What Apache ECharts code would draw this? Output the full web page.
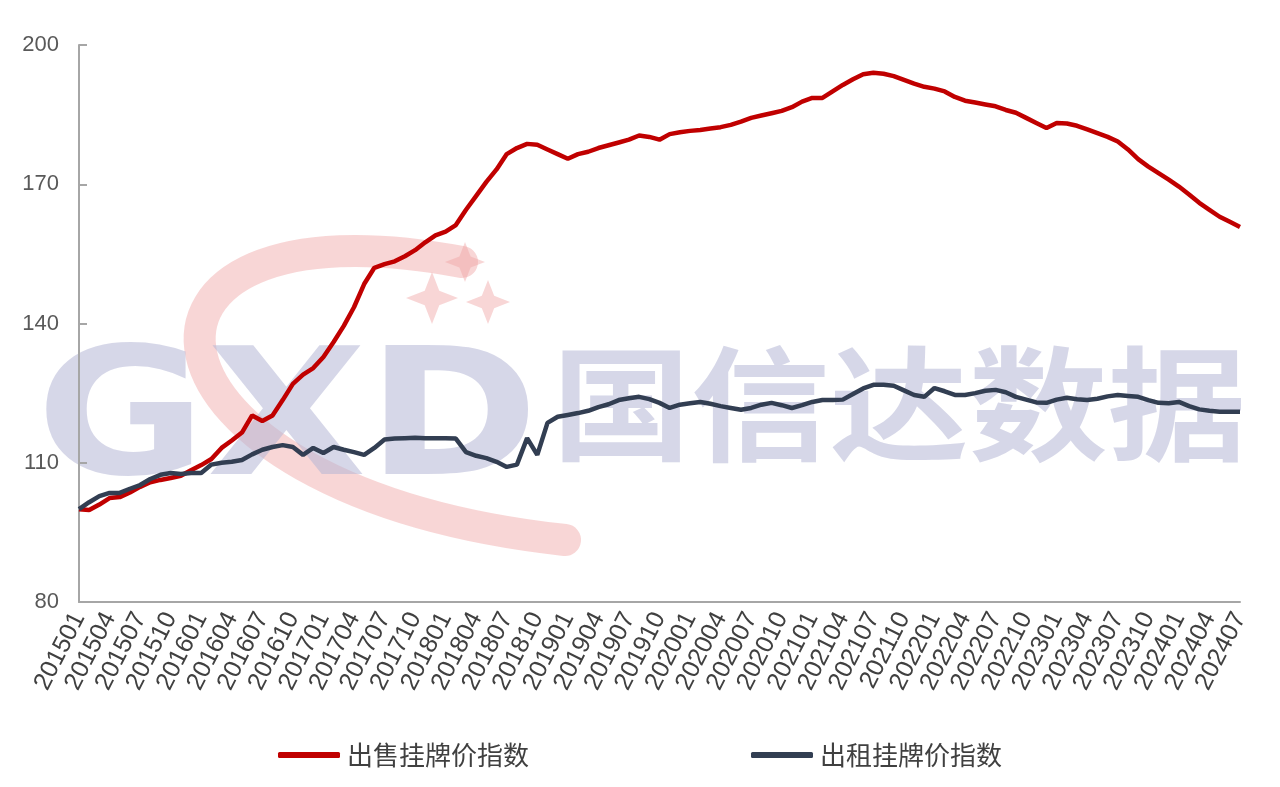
<!DOCTYPE html>
<html>
<head>
<meta charset="utf-8">
<script src="https://cdn.jsdelivr.net/npm/echarts@6/dist/echarts.min.js"></script>
<style>
html,body{margin:0;padding:0;background:#fff;}
#chart{width:1280px;height:787px;}
</style>
</head>
<body>
<div id="chart"></div>
<script>
// Month categories 201501 .. 202407
var months = [];
for (var y = 2015; y <= 2024; y++) {
  for (var m = 1; m <= 12; m++) {
    if (y === 2024 && m > 7) break;
    months.push(String(y) + (m < 10 ? '0' + m : String(m)));
  }
}

var seriesNames = ['出售挂牌价指数', '出租挂牌价指数'];

var saleIndex = [
  100, 99.8, 101, 102.4, 102.6, 103.6, 104.8, 105.8, 106.3, 106.7,
  107.2, 108.4, 109.5, 110.8, 113.2, 114.8, 116.5, 120.2, 119, 120.2,
  123.5, 127, 129, 130.4, 132.8, 136, 139.5, 143.5, 148.5, 152,
  152.8, 153.4, 154.5, 155.8, 157.5, 159, 159.8, 161.2, 164.5, 167.5,
  170.5, 173.2, 176.5, 177.8, 178.7, 178.5, 177.5, 176.5, 175.5, 176.5,
  177, 177.8, 178.4, 179, 179.6, 180.5, 180.2, 179.6, 180.8, 181.2,
  181.5, 181.7, 182, 182.3, 182.8, 183.5, 184.3, 184.8, 185.3, 185.8,
  186.6, 187.8, 188.6, 188.6, 190, 191.4, 192.6, 193.7, 194, 193.8,
  193.3, 192.5, 191.7, 191, 190.6, 190, 188.8, 188, 187.6, 187.2,
  186.8, 186, 185.4, 184.3, 183.2, 182.1, 183.2, 183.1, 182.6, 181.8,
  181, 180.2, 179.2, 177.5, 175.4, 173.8, 172.4, 171, 169.5, 167.8,
  166, 164.5, 163, 161.9, 160.8
];

var rentIndex = [
  100, 101.5, 102.8, 103.5, 103.5, 104.4, 105.2, 106.5, 107.4, 107.8,
  107.6, 107.8, 107.8, 109.6, 110, 110.2, 110.6, 111.8, 112.8, 113.4,
  113.8, 113.4, 111.7, 113.2, 112.1, 113.4, 112.8, 112.3, 111.7, 113.2,
  115, 115.2, 115.3, 115.4, 115.3, 115.3, 115.3, 115.2, 112.3, 111.5,
  111, 110.2, 109.1, 109.6, 115.3, 111.7, 118.6, 119.9, 120.3, 120.7,
  121.2, 122, 122.6, 123.5, 123.9, 124.2, 123.7, 122.9, 121.8, 122.5,
  122.8, 123.1, 122.7, 122.2, 121.8, 121.4, 121.8, 122.5, 122.9, 122.4,
  121.8, 122.4, 123.1, 123.5, 123.5, 123.6, 124.8, 126, 126.8, 126.8,
  126.6, 125.6, 124.6, 124.2, 126.1, 125.4, 124.6, 124.6, 125, 125.5,
  125.7, 125.2, 124.2, 123.6, 123, 122.9, 123.6, 124, 123.7, 123.5,
  123.8, 124.3, 124.6, 124.4, 124.2, 123.5, 122.9, 122.8, 123.1, 122.2,
  121.5, 121.2, 121, 121, 121
];

var yMin = 80, yMax = 200, yStep = 30;

function star(cx, cy, r) {
  var k = r * 0.28;
  return [[cx, cy - r], [cx + k, cy - k], [cx + r, cy], [cx + k, cy + k],
          [cx, cy + r], [cx - k, cy + k], [cx - r, cy], [cx - k, cy - k]];
}

var pink = 'rgba(240,165,165,0.45)';
var lav = 'rgba(180,182,214,0.55)';

var chart = echarts.init(document.getElementById('chart'), null, {renderer: 'canvas'});
chart.setOption({
  backgroundColor: '#ffffff',
  animation: false,
  graphic: [
    {
      type: 'bezierCurve', silent: true, z: 0,
      shape: {x1: 462, y1: 262, cpx1: 85, cpy1: 190, cpx2: 110, cpy2: 490, x2: 565, y2: 540},
      style: {stroke: pink, lineWidth: 32, fill: null, lineCap: 'round'}
    },
    {type: 'polygon', silent: true, z: 0, shape: {points: star(465, 262, 20)}, style: {fill: pink}},
    {type: 'polygon', silent: true, z: 0, shape: {points: star(432, 298, 26)}, style: {fill: pink}},
    {type: 'polygon', silent: true, z: 0, shape: {points: star(488, 302, 22)}, style: {fill: pink}},
    {
      type: 'text', silent: true, z: 0, x: 36, y: 428, scaleX: 1.18, scaleY: 1,
      style: {text: 'GXD', fontSize: 176, fontWeight: 'bold', fontFamily: 'DejaVu Sans',
              fill: lav, verticalAlign: 'middle', align: 'left'}
    },
    {
      type: 'text', silent: true, z: 0, x: 552, y: 404, scaleX: 1.12, scaleY: 1,
      style: {text: '国信达数据', fontSize: 124, fontWeight: 'bold', fontFamily: 'Noto Sans CJK SC',
              fill: lav, verticalAlign: 'middle', align: 'left'}
    }
  ],
  legend: {
    data: seriesNames,
    left: 'center',
    top: 737,
    icon: 'roundRect',
    itemWidth: 62,
    itemHeight: 6,
    itemGap: 222,
    textStyle: {fontSize: 26, color: '#404040', fontFamily: 'Noto Sans CJK SC', padding: [0, 0, 0, 2]}
  },
  grid: {left: 79, right: 40, top: 45, bottom: 185, containLabel: false},
  xAxis: {
    type: 'category',
    data: months,
    boundaryGap: false,
    axisLine: {show: true, lineStyle: {color: '#A6A6A6', width: 2}},
    axisTick: {show: false},
    axisLabel: {
      interval: 2,
      rotate: 63,
      margin: 12,
      fontSize: 25,
      color: '#404040',
      fontFamily: 'Liberation Sans'
    },
    splitLine: {show: false}
  },
  yAxis: {
    type: 'value',
    min: yMin,
    max: yMax,
    interval: yStep,
    axisLine: {show: true, lineStyle: {color: '#A6A6A6', width: 2}},
    axisTick: {show: true, inside: true, length: 8, lineStyle: {color: '#A6A6A6', width: 2}},
    axisLabel: {fontSize: 22, color: '#595959', margin: 20, fontFamily: 'Liberation Sans'},
    splitLine: {show: false}
  },
  series: [
    {
      name: seriesNames[0], type: 'line', data: saleIndex,
      showSymbol: false, symbol: 'none', z: 3,
      lineStyle: {color: '#C00000', width: 4.5},
      itemStyle: {color: '#C00000'}
    },
    {
      name: seriesNames[1], type: 'line', data: rentIndex,
      showSymbol: false, symbol: 'none', z: 4,
      lineStyle: {color: '#323E52', width: 4.5},
      itemStyle: {color: '#323E52'}
    }
  ]
});
</script>
</body>
</html>
